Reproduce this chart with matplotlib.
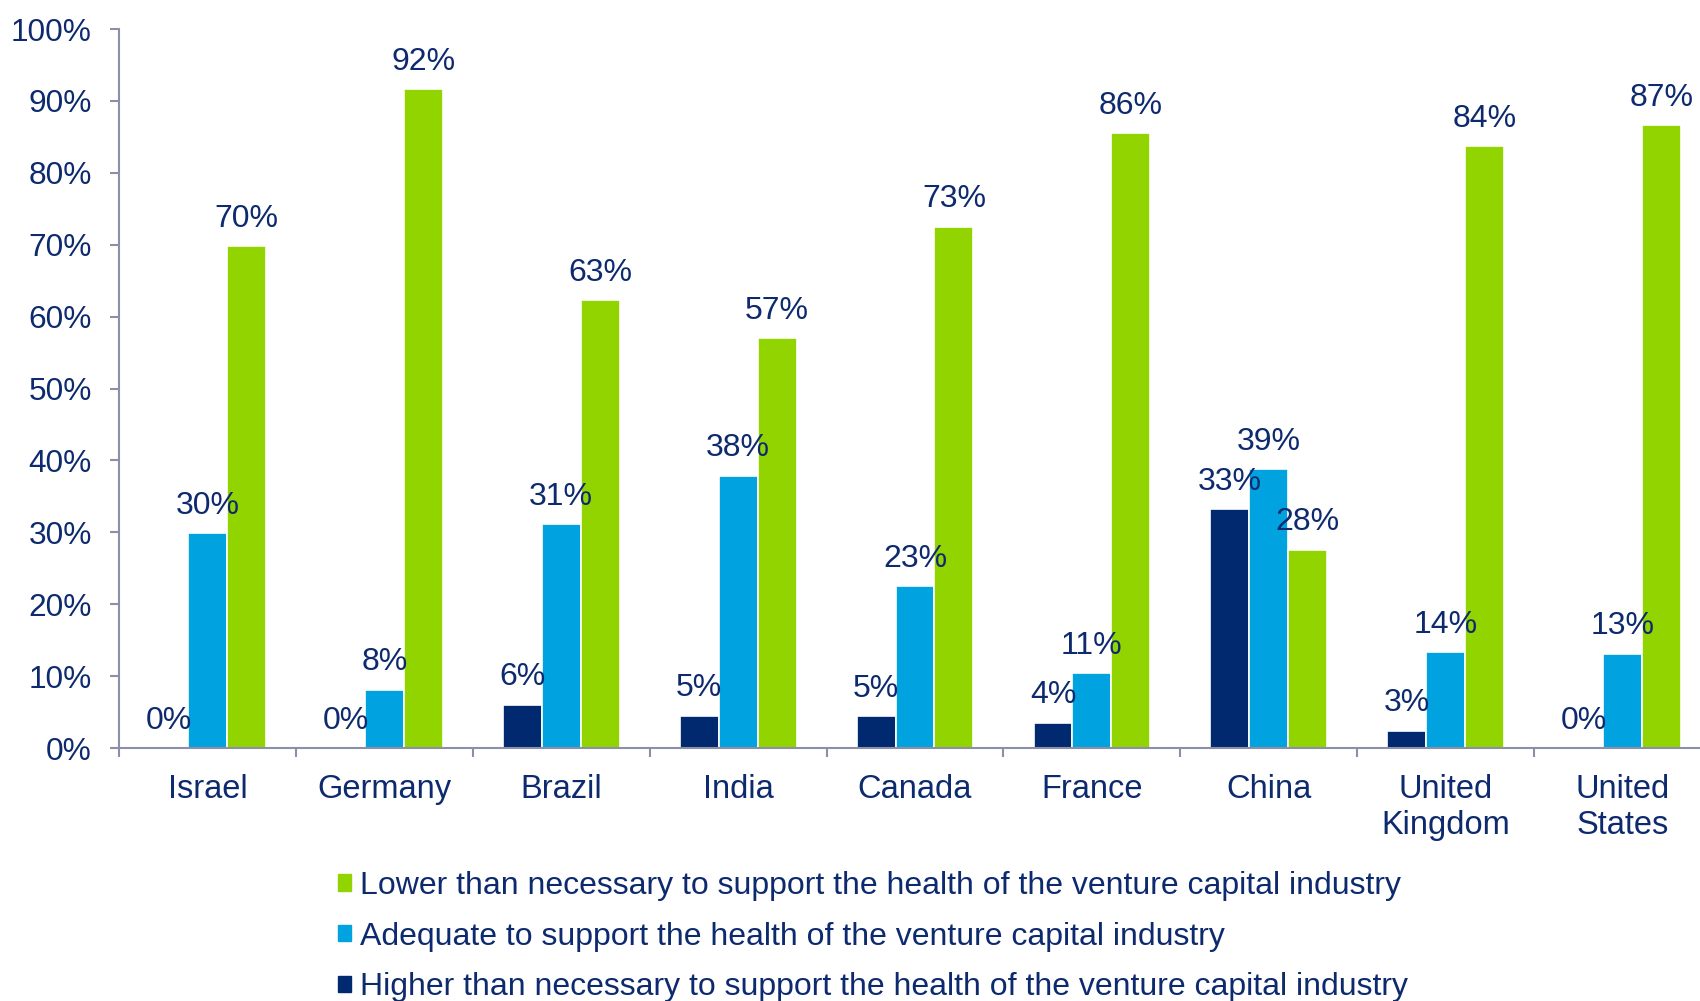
import matplotlib
matplotlib.use('Agg')
import matplotlib.pyplot as plt
from matplotlib.patches import Patch
import numpy as np

countries = ['Israel', 'Germany', 'Brazil', 'India', 'Canada', 'France', 'China',
             'United\nKingdom', 'United\nStates']
# bar heights (%)
higher = [0, 0, 6.0, 4.5, 4.4, 3.5, 33.2, 2.4, 0]
adequate = [29.9, 8.1, 31.1, 37.9, 22.5, 10.4, 38.8, 13.3, 13.1]
lower = [69.8, 91.6, 62.3, 57.0, 72.5, 85.5, 27.6, 83.7, 86.6]
# printed data labels
higher_lbl = [0, 0, 6, 5, 5, 4, 33, 3, 0]
adequate_lbl = [30, 8, 31, 38, 23, 11, 39, 14, 13]
lower_lbl = [70, 92, 63, 57, 73, 86, 28, 84, 87]
legend_labels = [
    'Lower than necessary to support the health of the venture capital industry',
    'Adequate to support the health of the venture capital industry',
    'Higher than necessary to support the health of the venture capital industry',
]

plt.rcParams['font.family'] = ['Liberation Sans', 'DejaVu Sans']
txt_col = '#0E2A6F'
axis_col = '#8C8FA8'
c_navy = '#00296F'
c_blue = '#00A3E0'
c_green = '#92D400'

fig = plt.figure(figsize=(17, 10.01), dpi=100)
ax = fig.add_axes([0.07, 0.2527, 0.9365, 0.7183])

x = np.arange(len(countries))
w = 0.22
series = [(higher, higher_lbl, c_navy), (adequate, adequate_lbl, c_blue), (lower, lower_lbl, c_green)]
for i, (vals, lbls, c) in enumerate(series):
    bars = ax.bar(x + (i - 1) * w, vals, w, color=c, edgecolor='white', linewidth=1.2)
    for b, l in zip(bars, lbls):
        ax.annotate(f'{l}%', (b.get_x() + b.get_width() / 2, b.get_height()),
                    xytext=(0, 14), textcoords='offset points', ha='center', va='baseline',
                    fontsize=23, color=txt_col, annotation_clip=False)

ax.set_xlim(-0.5, len(countries) - 0.5)
ax.set_ylim(0, 100)
ax.set_yticks(range(0, 101, 10))
ax.set_yticklabels([f'{v}%' for v in range(0, 101, 10)])
ax.set_xticks(x)
ax.set_xticklabels(countries)
ax.set_xticks(np.arange(len(countries) + 1) - 0.5, minor=True)

for s in ['top', 'right']:
    ax.spines[s].set_visible(False)
for s in ['left', 'bottom']:
    ax.spines[s].set_color(axis_col)
    ax.spines[s].set_linewidth(1.5)

ax.tick_params(axis='y', length=6.5, width=1.5, color=axis_col, pad=13, labelsize=22.8, labelcolor=txt_col)
ax.tick_params(axis='x', which='major', length=0, pad=18.5, labelsize=23.5, labelcolor=txt_col)
ax.tick_params(axis='x', which='minor', length=6.5, width=1.5, color=axis_col)

handles = [Patch(color=c_green), Patch(color=c_blue), Patch(color=c_navy)]
leg = fig.legend(handles, legend_labels, loc='upper left', bbox_to_anchor=(0.199, 0.1299),
                 frameon=False, fontsize=23, handlelength=0.41, handleheight=0.41,
                 handletextpad=0.27, labelspacing=0.65, borderpad=0, borderaxespad=0)
for t in leg.get_texts():
    t.set_color(txt_col)

fig.savefig('out.png', dpi=100)
